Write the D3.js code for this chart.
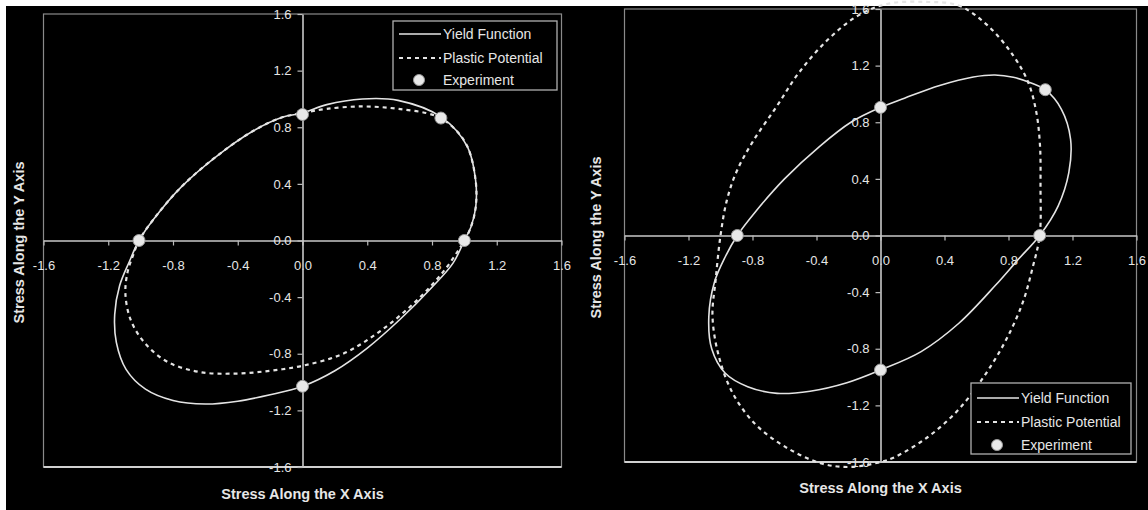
<!DOCTYPE html>
<html>
<head>
<meta charset="utf-8">
<script src="https://cdn.jsdelivr.net/npm/d3@7"></script>
<style>
  html, body { margin: 0; padding: 0; background: #fff; }
  svg { display: block; }
  text { font-family: "Liberation Sans", Arial, sans-serif; fill: #e6e6e6; }
</style>
</head>
<body>
<svg id="chart" width="1148" height="510"></svg>
<script>
// ---------- data ----------
const xTicks = [-1.6, -1.2, -0.8, -0.4, 0.0, 0.4, 0.8, 1.2, 1.6];
const yTicks = [-1.6, -1.2, -0.8, -0.4, 0.0, 0.4, 0.8, 1.2, 1.6];
const xTitle = "Stress Along the X Axis";
const yTitle = "Stress Along the Y Axis";
const legendLabels = ["Yield Function", "Plastic Potential", "Experiment"];

// Left panel
const leftYield = [
  [0, 0.90], [0.15, 0.96], [0.37, 1.0], [0.59, 0.99], [0.86, 0.87], [1.02, 0.66],
  [1.07, 0.42], [1.07, 0.235], [1.04, 0.094], [1.0, 0], [0.93, -0.16], [0.80, -0.33],
  [0.60, -0.56], [0.40, -0.76], [0.20, -0.92], [0, -1.03], [-0.20, -1.09], [-0.40, -1.135],
  [-0.60, -1.155], [-0.80, -1.13], [-0.97, -1.05], [-1.09, -0.91], [-1.15, -0.72],
  [-1.16, -0.52], [-1.13, -0.32], [-1.07, -0.15], [-1.01, 0], [-0.92, 0.15], [-0.75, 0.377],
  [-0.525, 0.60], [-0.30, 0.777], [-0.12, 0.872]
];
const leftPlastic = [
  [0, 0.90], [0.15, 0.93], [0.37, 0.947], [0.59, 0.93], [0.815, 0.883], [0.93, 0.80],
  [1.02, 0.66], [1.07, 0.42], [1.07, 0.235], [1.04, 0.094], [1.0, 0], [0.87, -0.22],
  [0.70, -0.43], [0.48, -0.64], [0.25, -0.80], [0, -0.885], [-0.20, -0.92], [-0.41, -0.94],
  [-0.63, -0.93], [-0.83, -0.86], [-0.97, -0.73], [-1.06, -0.565], [-1.094, -0.377],
  [-1.08, -0.22], [-1.045, -0.10], [-1.01, 0], [-0.92, 0.15], [-0.75, 0.377],
  [-0.525, 0.60], [-0.30, 0.777], [-0.12, 0.872]
];
const leftExperiment = [[0, 0.89], [0.855, 0.865], [1.0, 0], [-1.01, 0], [0, -1.03]];

// Right panel
const rightYield = [
  [0, 0.905], [0.15, 0.97], [0.37, 1.06], [0.58, 1.12], [0.715, 1.134], [0.83, 1.118],
  [0.946, 1.075], [1.03, 1.03], [1.13, 0.893], [1.188, 0.68], [1.177, 0.444], [1.11, 0.208],
  [0.995, 0], [0.86, -0.17], [0.72, -0.35], [0.49, -0.62], [0.254, -0.82], [0, -0.95],
  [-0.21, -1.04], [-0.44, -1.10], [-0.646, -1.115], [-0.83, -1.068], [-0.97, -0.973],
  [-1.055, -0.80], [-1.073, -0.572], [-1.038, -0.33], [-0.97, -0.15], [-0.895, 0],
  [-0.78, 0.17], [-0.60, 0.40], [-0.38, 0.63], [-0.185, 0.80]
];
const rightPlastic = [
  [0.277, 1.65], [0.485, 1.626], [0.669, 1.484], [0.83, 1.27], [0.923, 1.082], [0.974, 0.87],
  [0.997, 0.633], [1.0, 0.35], [0.995, 0], [0.95, -0.23], [0.89, -0.47], [0.785, -0.737],
  [0.646, -0.997], [0.485, -1.233], [0.30, -1.42], [0.092, -1.564], [0, -1.60], [-0.185, -1.635],
  [-0.37, -1.61], [-0.60, -1.49], [-0.785, -1.33], [-0.923, -1.115], [-1.01, -0.855],
  [-1.05, -0.572], [-1.03, -0.31], [-1.0, 0], [-0.96, 0.25], [-0.90, 0.45], [-0.80, 0.66],
  [-0.646, 0.917], [-0.508, 1.153], [-0.323, 1.39], [-0.138, 1.555], [0.046, 1.637]
];
const rightExperiment = [[0, 0.905], [1.03, 1.03], [0.995, 0], [-0.895, 0], [0, -0.95]];

// ---------- drawing ----------
const svg = d3.select("#chart");
svg.append("rect").attr("x", 0).attr("y", 0).attr("width", 1148).attr("height", 510).attr("fill", "#fff");
svg.append("rect").attr("x", 6).attr("y", 6).attr("width", 1142).attr("height", 504).attr("fill", "#000");

const LINE = "#e4e4e4";

function drawPanel(cfg) {
  const g = svg.append("g");
  const x = d3.scaleLinear().domain([-1.6, 1.6]).range(cfg.xr);
  const y = d3.scaleLinear().domain([-1.6, 1.6]).range(cfg.yr);

  // plot border
  g.append("rect")
    .attr("x", cfg.xr[0]).attr("y", cfg.yr[1])
    .attr("width", cfg.xr[1] - cfg.xr[0]).attr("height", cfg.yr[0] - cfg.yr[1])
    .attr("fill", "none").attr("stroke", "#8a8a8a").attr("stroke-width", 1.2);
  g.append("line")
    .attr("x1", cfg.xr[0]).attr("x2", cfg.xr[1])
    .attr("y1", cfg.yr[0]).attr("y2", cfg.yr[0])
    .attr("stroke", "#d0d0d0").attr("stroke-width", 2);

  // axes crossing at 0
  const xAxis = d3.axisBottom(x).tickValues(xTicks).tickSize(5).tickSizeOuter(0).tickPadding(15)
    .tickFormat(d => d.toFixed(1));
  const yAxis = d3.axisLeft(y).tickValues(yTicks).tickSize(5).tickSizeOuter(0).tickPadding(6)
    .tickFormat(d => d.toFixed(1));

  const gx = g.append("g").attr("transform", `translate(0,${y(0)})`).call(xAxis);
  const gy = g.append("g").attr("transform", `translate(${x(0)},0)`).call(yAxis);
  [gx, gy].forEach(a => {
    a.select(".domain").attr("stroke", "#c8c8c8").attr("stroke-width", 1.6);
    a.selectAll(".tick line").attr("stroke", "#bbbbbb").attr("stroke-width", 1.2);
    a.selectAll(".tick text").attr("fill", "#d8d8d8")
      .style("font-size", "13px").style("font-family", '"Liberation Sans", Arial, sans-serif');
  });

  // axis titles
  g.append("text")
    .attr("x", x(0)).attr("y", cfg.xTitleY)
    .attr("text-anchor", "middle")
    .style("font-size", "14.5px").style("font-weight", "bold")
    .text(xTitle);
  g.append("text")
    .attr("transform", `translate(${cfg.yTitleX},${(cfg.yr[0] + cfg.yr[1]) / 2 + 2}) rotate(-90)`)
    .attr("text-anchor", "middle")
    .attr("dy", "0.35em")
    .style("font-size", "14.5px").style("font-weight", "bold")
    .text(yTitle);

  const line = d3.line().x(d => x(d[0])).y(d => y(d[1])).curve(d3.curveCatmullRomClosed.alpha(0.5));

  g.append("path").datum(cfg.plastic)
    .attr("d", line).attr("fill", "none")
    .attr("stroke", LINE).attr("stroke-width", 2.2)
    .attr("stroke-dasharray", "4,4");
  g.append("path").datum(cfg.yieldF)
    .attr("d", line).attr("fill", "none")
    .attr("stroke", LINE).attr("stroke-width", 1.6);

  g.selectAll("circle.exp").data(cfg.exp).join("circle")
    .attr("class", "exp")
    .attr("cx", d => x(d[0])).attr("cy", d => y(d[1]))
    .attr("r", 6)
    .attr("fill", "#e8e8e8").attr("stroke", "#9a9a9a").attr("stroke-width", 1);

  // legend
  const L = cfg.legend;
  const lg = g.append("g");
  lg.append("rect").attr("x", L.x).attr("y", L.y).attr("width", L.w).attr("height", L.h)
    .attr("fill", "#000").attr("stroke", "#b0b0b0").attr("stroke-width", 1.3);
  legendLabels.forEach((lab, i) => {
    const cy = L.y + L.rows[i];
    if (i === 0) {
      lg.append("line").attr("x1", L.x + 6).attr("x2", L.x + 48).attr("y1", cy).attr("y2", cy)
        .attr("stroke", LINE).attr("stroke-width", 1.6);
    } else if (i === 1) {
      lg.append("line").attr("x1", L.x + 6).attr("x2", L.x + 48).attr("y1", cy).attr("y2", cy)
        .attr("stroke", LINE).attr("stroke-width", 2.2).attr("stroke-dasharray", "4,4");
    } else {
      lg.append("circle").attr("cx", L.x + 26).attr("cy", cy).attr("r", 5.5)
        .attr("fill", "#e8e8e8").attr("stroke", "#9a9a9a");
    }
    lg.append("text").attr("x", L.x + 50).attr("y", cy).attr("dy", "0.35em")
      .style("font-size", "14px").attr("fill", "#dcdcdc").text(lab);
  });
}

drawPanel({
  xr: [43.5, 561.5], yr: [467, 14],
  xTitleY: 499, yTitleX: 19,
  yieldF: leftYield, plastic: leftPlastic, exp: leftExperiment,
  legend: { x: 393, y: 21, w: 164, h: 69, rows: [13, 37, 59] }
});
drawPanel({
  xr: [624.5, 1136.5], yr: [462, 9],
  xTitleY: 493, yTitleX: 596,
  yieldF: rightYield, plastic: rightPlastic, exp: rightExperiment,
  legend: { x: 971, y: 383, w: 160, h: 71, rows: [15, 39, 62] }
});
</script>
</body>
</html>
